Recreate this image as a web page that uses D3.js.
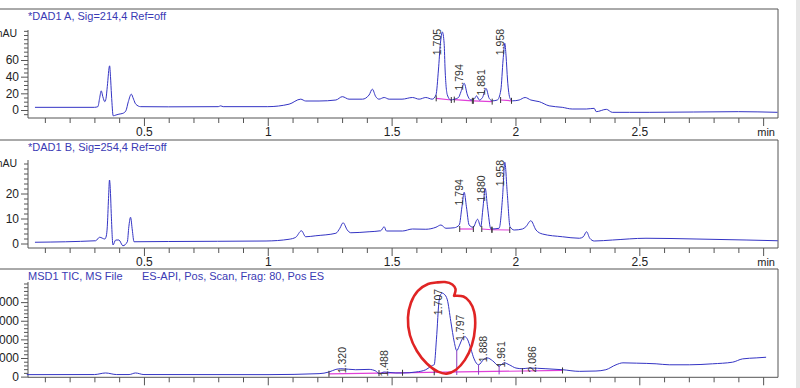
<!DOCTYPE html>
<html>
<head>
<meta charset="utf-8">
<script src="https://cdn.jsdelivr.net/npm/d3@7"></script>
<style>
body{margin:0;background:#fff;overflow:hidden}
svg{display:block;font-family:"Liberation Sans",Arial,sans-serif}
</style>
</head>
<body>
<svg id="chart" width="800" height="388"></svg>
<script>
// retention time axis (min), shared by the three signals
var timeDomain = [0.0319, 3.06];
var timeLabels = [0.5, 1, 1.5, 2, 2.5, 3];

// DAD1 A, Sig=214,4  [min, mAU]
var dadA = [[0.06,3.2],[0.30,3.2],[0.314,4],[0.321,14],[0.3275,23],[0.334,16],[0.342,10],[0.347,14],[0.352,28],[0.3614,53],[0.365,40],[0.369,18],[0.376,-7],[0.387,-6],[0.399,-5],[0.415,-4],[0.427,-1],[0.437,10],[0.449,19],[0.458,13],[0.467,7],[0.487,4],[0.6,3.8],[0.8,4],[0.81,5],[0.82,4],[1.0,4],[1.086,7],[1.133,13],[1.153,10.8],[1.207,10.8],[1.275,12],[1.301,16],[1.328,13],[1.382,13],[1.409,18],[1.422,25],[1.436,16],[1.449,13],[1.47,15],[1.49,13],[1.542,13],[1.584,15],[1.611,13],[1.638,15],[1.664,13],[1.679,18],[1.689,48],[1.697,80],[1.705,93.6],[1.712,80],[1.716,48],[1.725,18],[1.739,12],[1.753,13],[1.77,15],[1.78,22],[1.793,32],[1.806,18],[1.82,12],[1.833,13],[1.843,17],[1.854,12],[1.867,15],[1.881,26],[1.894,14],[1.907,11],[1.927,12],[1.941,24],[1.95,60],[1.957,80],[1.962,65],[1.968,36],[1.978,14],[1.988,11],[2.015,12],[2.039,15],[2.062,12],[2.096,10],[2.136,5],[2.189,3.2],[2.229,1.2],[2.286,1.2],[2.318,2],[2.326,-2],[2.367,0.8],[2.391,-2.8],[2.46,-2.8],[2.54,-2.8],[2.9,-2],[3.058,-2.8]];
var dadAPeaks = [1.705, 1.794, 1.881, 1.958];
var dadABase = [[[1.68,14],[1.741,12]], [[1.753,12.5],[1.826,11]], [[1.83,11],[1.906,10]], [[1.94,12],[1.984,11]]];
var dadATicks = [0, 20, 40, 60];

// DAD1 B, Sig=254,4  [min, mAU]
var dadB = [[0.06,0.5],[0.305,1.1],[0.321,2.5],[0.342,1.8],[0.348,3],[0.352,6.7],[0.357,18],[0.361,25.4],[0.365,20],[0.368,12],[0.375,-0.6],[0.386,1.4],[0.399,1.4],[0.415,-0.9],[0.433,0.7],[0.439,6.7],[0.446,10.5],[0.453,5.4],[0.46,0.7],[0.6,0.8],[0.993,1],[1.086,1.7],[1.113,2.5],[1.136,5.1],[1.153,2.7],[1.194,3.1],[1.275,4.1],[1.291,6.1],[1.304,8.3],[1.321,5.4],[1.335,4.3],[1.409,4.7],[1.456,5.1],[1.47,6.7],[1.479,5],[1.544,5],[1.584,5.8],[1.638,5.7],[1.679,6.5],[1.699,7.4],[1.719,6.1],[1.753,6.3],[1.773,7.4],[1.784,14.7],[1.793,20.5],[1.802,14.7],[1.813,7.4],[1.829,6.5],[1.847,9.7],[1.86,6.7],[1.868,13.4],[1.878,22],[1.887,14.7],[1.901,5.8],[1.934,6.1],[1.948,18.7],[1.957,32.5],[1.967,20],[1.978,6.7],[1.995,5.4],[2.028,5.8],[2.042,6.7],[2.062,9.1],[2.083,5.4],[2.109,3.8],[2.19,2.7],[2.258,2.1],[2.274,2.7],[2.287,4.7],[2.3,2.1],[2.318,1],[2.392,1.4],[2.527,2.1],[2.729,1.8],[2.931,1.4],[3.059,1.1]];
var dadBPeaks = [1.794, 1.880, 1.958];
var dadBBase = [[[1.775,5.8],[1.83,5.8]], [[1.864,5.8],[1.905,5.5]], [[1.905,5.5],[1.977,5.4]]];
var dadBTicks = [0, 10, 20];

// MSD1 TIC  [min, counts]
var tic = [[0.027,106],[0.30,110],[0.345,195],[0.39,110],[0.44,110],[0.466,195],[0.50,110],[1.005,106],[1.207,159],[1.247,247],[1.275,388],[1.295,423],[1.355,370],[1.409,388],[1.436,300],[1.449,159],[1.47,247],[1.517,195],[1.544,195],[1.598,247],[1.638,370],[1.665,600],[1.672,640],[1.681,2010],[1.692,4120],[1.699,4430],[1.705,4480],[1.712,4430],[1.725,4120],[1.739,2960],[1.753,1850],[1.763,1390],[1.773,1650],[1.786,2040],[1.797,2140],[1.806,2010],[1.82,1480],[1.833,950],[1.851,635],[1.874,950],[1.887,1000],[1.907,860],[1.934,566],[1.955,740],[1.975,635],[2.002,460],[2.028,423],[2.056,460],[2.123,423],[2.19,370],[2.258,282],[2.325,300],[2.365,370],[2.406,635],[2.434,740],[2.488,723],[2.568,688],[2.621,635],[2.702,635],[2.796,688],[2.877,776],[2.917,952],[2.972,1005],[3.012,1040]];
var ticPeaks = [1.320, 1.488, 1.707, 1.797, 1.888, 1.961, 2.086];
var ticBase = [[[1.247,150],[2.19,330]]];
var ticDrops = [1.763, 1.851, 1.934];
var ticMarks = [1.247, 1.449, 1.544, 1.672, 2.028, 2.19];
var ticTicks = [0, 1000, 2000, 3000, 4000];

// hand-drawn red loop on the TIC  [min, counts]
var redLoop = [[1.752,4340],[1.758,4700],[1.745,4950],[1.715,5079],[1.680,5050],[1.647,4974],[1.606,4603],[1.578,3968],[1.566,3175],[1.574,2222],[1.602,1376],[1.643,688],[1.687,265],[1.723,159],[1.760,370],[1.796,899],[1.824,1693],[1.837,2646],[1.833,3492],[1.815,4021],[1.790,4300],[1.752,4340]];

var panels = [
	{title:["*DAD1 A, Sig=214,4 Ref=off"], data:dadA, peaks:dadAPeaks, base:dadABase, ticks:dadATicks, minor:5, unit:"mAU",
	 top:9, y0:30, y1:118, dom:[-9.6,96], off:-6, xlab:true},
	{title:["*DAD1 B, Sig=254,4 Ref=off"], data:dadB, peaks:dadBPeaks, base:dadBBase, ticks:dadBTicks, minor:2, unit:"mAU",
	 top:140, y0:160, y1:248, dom:[-1.8,33.4], off:0, xlab:true},
	{title:["MSD1 TIC, MS File","ES-API, Pos, Scan, Frag: 80, Pos ES"], data:tic, peaks:ticPeaks, base:ticBase, ticks:ticTicks, minor:200, unit:"",
	 top:269, y0:282, y1:377.3, dom:[-37,5080], off:-9, drops:ticDrops, marks:ticMarks, xlab:false}
];

var svg = d3.select("#chart");
var xL = 28, xR = 778;
var x = d3.scaleLinear().domain(timeDomain).range([xL, xR]);
var blue = "#3434c4", pink = "#e040d8", frame = "#555";

function valueAt(s, t){
	var i = d3.bisector(d=>d[0]).left(s, t);
	if(i<=0) return s[0][1];
	if(i>=s.length) return s[s.length-1][1];
	var a = s[i-1], b = s[i];
	return a[1]+(b[1]-a[1])*(t-a[0])/(b[0]-a[0]);
}

panels.forEach(function(p){
	var y = d3.scaleLinear().domain(p.dom).range([p.y1, p.y0]);
	var g = svg.append("g");

	// frame
	g.append("line").attr("x1",0).attr("x2",xR).attr("y1",p.top).attr("y2",p.top).attr("stroke",frame);
	g.append("line").attr("x1",xR).attr("x2",xR).attr("y1",p.top).attr("y2",p.y1).attr("stroke",frame);
	g.append("line").attr("x1",xL).attr("x2",xR).attr("y1",p.y1).attr("y2",p.y1).attr("stroke",frame);
	g.append("line").attr("x1",xL).attr("x2",xL).attr("y1",p.y0).attr("y2",p.y1).attr("stroke",frame);

	// title
	var tx = [28, 142];
	p.title.forEach(function(t,i){
		g.append("text").attr("x",tx[i]).attr("y",p.top+11).attr("font-size",11)
		.attr("fill","#3a3ab4").text(t);
	});

	// x axis
	var minor = d3.range(1,31).map(i=>i/10).filter(v=>timeLabels.indexOf(v)<0);
	var gx1 = g.append("g").attr("transform","translate(0,"+p.y1+")")
		.call(d3.axisBottom(x).tickValues(minor).tickSize(5).tickSizeOuter(0).tickFormat(""));
	var gx2 = g.append("g").attr("transform","translate(0,"+p.y1+")")
		.call(d3.axisBottom(x).tickValues(timeLabels).tickSize(8).tickSizeOuter(0).tickPadding(1.5)
		.tickFormat(d=>(d==3||!p.xlab)?"":d3.format("")(d)));
	[gx1,gx2].forEach(function(a){
		a.select(".domain").remove();
		a.selectAll("line").attr("stroke",frame);
		a.selectAll("text").attr("font-size",12).attr("fill","#222").attr("font-family",null);
	});
	if(p.xlab){
		g.append("text").attr("x",775).attr("y",p.y1+18).attr("text-anchor","end")
		.attr("font-size",11).attr("fill","#222").text("min");
	}

	// y axis
	var ym = d3.range(Math.ceil(p.dom[0]/p.minor)*p.minor, p.dom[1], p.minor).filter(v=>p.ticks.indexOf(v)<0);
	var gy1 = g.append("g").attr("transform","translate("+xL+",0)")
		.call(d3.axisLeft(y).tickValues(ym).tickSize(4).tickSizeOuter(0).tickFormat(""));
	var gy2 = g.append("g").attr("transform","translate("+xL+",0)")
		.call(d3.axisLeft(y).tickValues(p.ticks).tickSize(7).tickSizeOuter(0).tickPadding(2).tickFormat(d3.format("")));
	[gy1,gy2].forEach(function(a){
		a.select(".domain").remove();
		a.selectAll("line").attr("stroke",frame);
		a.selectAll("text").attr("font-size",12).attr("fill","#222").attr("font-family",null);
	});
	if(p.unit){
		g.append("text").attr("x",17).attr("y",p.y0+7).attr("text-anchor","end")
		.attr("font-size",10.5).attr("fill","#222").text(p.unit);
	}

	// integration baselines
	g.selectAll("line.base").data(p.base).enter().append("line").attr("class","base")
	.attr("x1",d=>x(d[0][0])).attr("y1",d=>y(d[0][1]))
	.attr("x2",d=>x(d[1][0])).attr("y2",d=>y(d[1][1]))
	.attr("stroke",pink).attr("stroke-width",1.2);

	// trace
	var ln = d3.line().x(d=>x(d[0])).y(d=>y(d[1])).curve(d3.curveMonotoneX);
	g.append("path").attr("d",ln(p.data)).attr("fill","none").attr("stroke",blue).attr("stroke-width",1);

	// peak start / end marks
	var ends = [];
	if(p.marks){
		p.marks.forEach(t=>ends.push([t, valueAt(p.base[0], t)]));
	} else {
		p.base.forEach(s=>{ends.push(s[0]); ends.push(s[1]);});
	}
	g.selectAll("line.mark").data(ends).enter().append("line").attr("class","mark")
	.attr("x1",d=>x(d[0])).attr("x2",d=>x(d[0]))
	.attr("y1",d=>y(d[1])-3).attr("y2",d=>y(d[1])+3)
	.attr("stroke","#333").attr("stroke-width",1);

	// drop lines
	if(p.drops){
		g.selectAll("line.drop").data(p.drops).enter().append("line").attr("class","drop")
		.attr("x1",d=>x(d)).attr("x2",d=>x(d))
		.attr("y1",d=>y(valueAt(p.data,d))).attr("y2",d=>y(valueAt(p.base[0],d))+3)
		.attr("stroke","#8a3cc0").attr("stroke-width",1);
	}

	// retention time labels
	g.selectAll("text.rt").data(p.peaks).enter().append("text").attr("class","rt")
	.attr("transform",function(t){
		var near = p.data.filter(d=>Math.abs(d[0]-t)<=0.006).map(d=>d[1]);
		var v = d3.max(near.concat([valueAt(p.data,t)]));
		var cy = Math.max(y(v)+p.off, p.top+33);
		return "translate("+(x(t)-1)+","+cy+") rotate(-90)";
	})
	.attr("text-anchor","middle").attr("font-size",10.5).attr("fill","#333")
	.text(t=>d3.format(".3f")(t));

	if(p.drops){
		var loop = d3.line().x(d=>x(d[0])).y(d=>y(d[1])).curve(d3.curveCatmullRom);
		g.append("path").attr("d",loop(redLoop)).attr("fill","none")
		.attr("stroke","#e02424").attr("stroke-width",2.6).attr("stroke-linecap","round");
	}
});

svg.append("rect").attr("x",796).attr("y",0).attr("width",4).attr("height",388).attr("fill","#e6e6e6");
</script>
</body>
</html>
